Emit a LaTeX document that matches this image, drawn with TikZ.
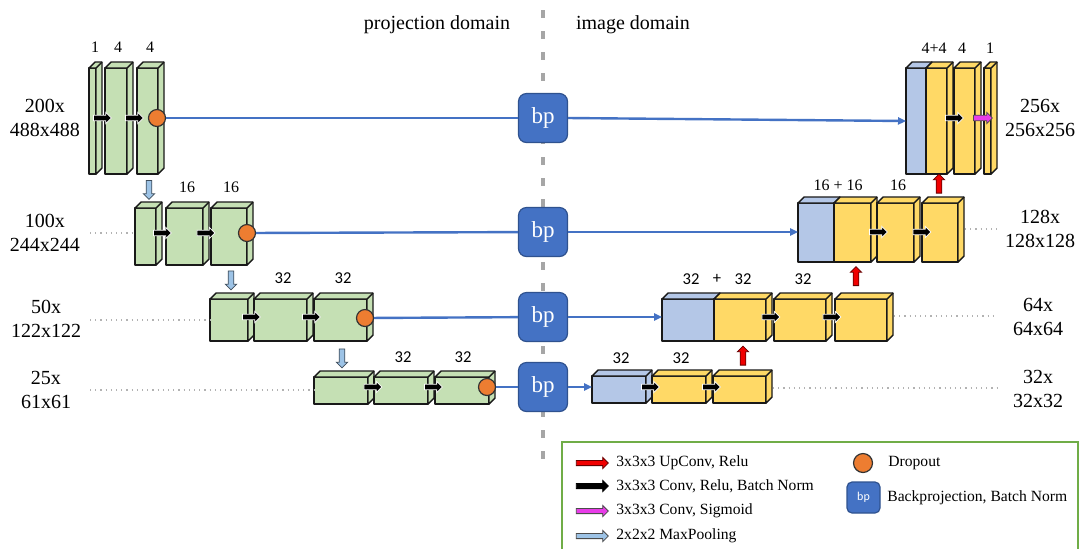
\documentclass[tikz,border=0pt]{standalone}
\usepackage{fontspec}
\setmainfont{Liberation Serif}
\newfontfamily\calfont{Carlito}
\usetikzlibrary{fit,shapes.arrows,arrows.meta,calc}
\definecolor{cgreen}{HTML}{C5E0B4}
\definecolor{cyellow}{HTML}{FFD966}
\definecolor{cblue}{HTML}{B4C7E7}
\definecolor{bpblue}{HTML}{4472C4}
\definecolor{bpborder}{HTML}{2F528F}
\definecolor{corange}{HTML}{ED7D31}
\definecolor{lgreen}{HTML}{70AD47}
\definecolor{cred}{HTML}{F00000}
\definecolor{cmag}{HTML}{E83CE8}
\definecolor{cpool}{HTML}{9DC3E6}
\definecolor{cdiv}{HTML}{A6A6A6}
\tikzset{
  face/.style={draw=black!90, line width=0.7pt, line join=round},
  blockbox/.style={face, inner sep=0pt, outer sep=0pt},
  arr/.style={single arrow, inner xsep=0pt, inner ysep=1.2pt, single arrow head extend=1.4pt,
    single arrow head indent=0pt, minimum height=9pt, line width=0.4pt},
  conv/.style={arr, fill=black, draw=white},
  sigm/.style={arr, fill=cmag, draw=black!70, minimum height=9.5pt},
  upconv/.style={arr, fill=cred, draw=black!60!red, minimum height=9.5pt, rotate=90},
  pool/.style={arr, fill=cpool, draw=black!60!cpool, minimum height=9.5pt, rotate=-90},
  legarr/.style={arr, minimum height=16pt, inner ysep=1.1pt, single arrow head extend=1.5pt},
  drop/.style={circle, minimum size=8.5pt, inner sep=0pt, fill=corange, draw=black!80, line width=0.6pt},
  bp/.style={rounded corners=4pt, minimum size=24.5pt, inner sep=0pt, fill=bpblue, draw=bpborder,
    line width=0.6pt, text=white, font=\fontsize{11.5}{13}\selectfont},
  dim/.style={align=center, font=\fontsize{10}{12}\selectfont, inner sep=0pt},
  slab/.style={font=\fontsize{8}{9}\selectfont, inner sep=0pt},
  clab/.style={font=\calfont\fontsize{8.3}{9}\selectfont, inner sep=0pt},
  ttl/.style={font=\fontsize{10}{12}\selectfont, inner sep=0pt},
  legtxt/.style={font=\fontsize{7.8}{9}\selectfont, anchor=west, inner sep=0pt},
  bpline/.style={draw=bpblue, line width=1.2pt},
  dotline/.style={draw=black!30, dotted, line width=0.6pt},
}
\newcommand\blk[6]{%
  \node[blockbox, fill=#6, fit={(#2,#4)(#3,#5)}] (#1) {};
  \draw[face, fill=#6] (#1.north west) -- ([shift={(6,-6)}]#1.north west)
    -- ([shift={(6,-6)}]#1.north east) -- ([shift={(6,-6)}]#1.south east)
    -- (#1.south east) -- (#1.north east) -- cycle;
  \draw[face] (#1.north east) -- ([shift={(6,-6)}]#1.north east);
}
\begin{document}
\begin{tikzpicture}[x=0.5pt, y=-0.5pt]
\useasboundingbox (0,0) rectangle (1080,548);
\fill[white] (0,0) rectangle (1080,548);

% domain divider
\coordinate (divtop) at (543,10);
\coordinate (divbot) at (543,466);
\draw[cdiv, line width=1.6pt, dash pattern=on 4pt off 6.5pt] (divtop) -- (divbot);
\node[ttl] (tproj) at (437,25) {projection domain};
\node[ttl] (timg) at (633,25) {image domain};

% ---------- left (projection) blocks ----------
\blk{L1a}{89}{96}{68}{174}{cgreen}
\blk{L1b}{105}{127}{68}{174}{cgreen}
\blk{L1c}{137}{158}{68}{174}{cgreen}
\blk{L2a}{135}{156}{208}{265}{cgreen}
\blk{L2b}{166}{203}{208}{265}{cgreen}
\blk{L2c}{211}{247}{208}{265}{cgreen}
\blk{L3a}{210}{248}{299}{341}{cgreen}
\blk{L3b}{254}{307}{299}{341}{cgreen}
\blk{L3c}{314}{367}{299}{341}{cgreen}
\blk{L4a}{314}{368}{377}{404}{cgreen}
\blk{L4b}{374}{428}{377}{404}{cgreen}
\blk{L4c}{435}{489}{377}{404}{cgreen}

% ---------- right (image) blocks ----------
\blk{R1b}{906}{926}{68}{174}{cblue}
\blk{R1c}{926}{947}{68}{174}{cyellow}
\blk{R1d}{954}{975}{68}{174}{cyellow}
\blk{R1e}{984}{991}{68}{174}{cyellow}
\blk{R2b}{798}{834}{203}{262}{cblue}
\blk{R2c}{834}{871}{203}{262}{cyellow}
\blk{R2d}{877}{914}{203}{262}{cyellow}
\blk{R2e}{922}{958}{203}{262}{cyellow}
\blk{R3b}{662}{714}{299}{341}{cblue}
\blk{R3c}{714}{766}{299}{341}{cyellow}
\blk{R3d}{774}{826}{299}{341}{cyellow}
\blk{R3e}{835}{887}{299}{341}{cyellow}
\blk{R4b}{592}{646}{376}{403}{cblue}
\blk{R4c}{652}{706}{376}{403}{cyellow}
\blk{R4d}{713}{766}{376}{403}{cyellow}

% ---------- dropout and backprojection ----------
\node[drop] (d1) at (157,118) {};
\node[drop] (d2) at (247,233) {};
\node[drop] (d3) at (365,318) {};
\node[drop] (d4) at (487,387) {};
\node[bp] (bp1) at (543,118) {bp};
\node[bp] (bp2) at (543,232) {bp};
\node[bp] (bp3) at (543,317) {bp};
\node[bp] (bp4) at (543,387) {bp};

\draw[bpline] (d1) -- (bp1);
\draw[bpline] (d2) -- (bp2);
\draw[bpline] (d3) -- (bp3);
\draw[bpline] (d4) -- (bp4);
\draw[bpline, -{Triangle[length=4pt,width=3.6pt]}] (bp1.east) -- (R1b.west);
\draw[bpline, -{Triangle[length=4pt,width=3.6pt]}] (bp2.east) -- (bp2.east -| R2b.west);
\draw[bpline, -{Triangle[length=4pt,width=3.6pt]}] (bp3.east) -- (bp3.east -| R3b.west);
\draw[bpline, -{Triangle[length=4pt,width=3.6pt]}] (bp4.east) -- (bp4.east -| R4b.west);

% ---------- conv arrows ----------
\node[conv] (c11) at (101,118) {};
\node[conv] (c12) at (133,118) {};
\node[conv] (c21) at (161,233) {};
\node[conv] (c22) at (204.5,233) {};
\node[conv] (c31) at (250,317) {};
\node[conv] (c32) at (310,317) {};
\node[conv] (c41) at (371.5,387) {};
\node[conv] (c42) at (432,387) {};
\node[conv] (r11) at (953,118) {};
\node[sigm] (r12) at (981.5,118) {};
\node[conv] (r21) at (877,232) {};
\node[conv] (r22) at (920.5,232) {};
\node[conv] (r31) at (769.5,317) {};
\node[conv] (r32) at (830.5,317) {};
\node[conv] (r41) at (649,387) {};
\node[conv] (r42) at (710,387) {};

% pooling (down) and upconv (up)
\node[pool] (p1) at (149,188.5) {};
\node[pool] (p2) at (231,279) {};
\node[pool] (p3) at (342,357) {};
\node[upconv] (u1) at (939,185) {};
\node[upconv] (u2) at (856,277.5) {};
\node[upconv] (u3) at (743,357) {};

% ---------- channel labels ----------
\node[slab] (n11) at (95,47) {1};
\node[slab] (n12) at (118,47) {4};
\node[slab] (n13) at (150,47) {4};
\node[slab] (n21) at (187,187) {16};
\node[slab] (n22) at (231,187) {16};
\node[clab] (n31) at (283,278) {32};
\node[clab] (n32) at (343,278) {32};
\node[clab] (n41) at (403,357) {32};
\node[clab] (n42) at (463,357) {32};
\node[slab] (m11) at (934,48) {4+4};
\node[slab] (m12) at (962,48) {4};
\node[slab] (m13) at (990,48) {1};
\node[slab] (m21) at (838,185) {16 + 16};
\node[slab] (m22) at (898,185) {16};
\node[clab] (m31) at (691,279) {32};
\node[clab] (m3p) at (717,279) {+};
\node[clab] (m32) at (743,279) {32};
\node[clab] (m33) at (803,279) {32};
\node[clab] (m41) at (621,358) {32};
\node[clab] (m42) at (681,358) {32};

% ---------- size labels ----------
\node[dim] (ls1) at (45,118) {200x\\488x488};
\node[dim] (ls2) at (45,233) {100x\\244x244};
\node[dim] (ls3) at (46,319) {50x\\122x122};
\node[dim] (ls4) at (46,390) {25x\\61x61};
\node[dim] (rs1) at (1040,118) {256x\\256x256};
\node[dim] (rs2) at (1040,229) {128x\\128x128};
\node[dim] (rs3) at (1038,317) {64x\\64x64};
\node[dim] (rs4) at (1038,389) {32x\\32x32};

% dotted guide lines
\coordinate (gl2) at (90,233);
\coordinate (gl3) at (90,320);
\coordinate (gl4) at (90,390);
\draw[dotline] (gl2) -- (gl2 -| L2a.west);
\draw[dotline] (gl3) -- (gl3 -| L3a.west);
\draw[dotline] (gl4) -- (gl4 -| L4a.west);
\coordinate (gr2) at (997,229);
\coordinate (gr3) at (997,316);
\coordinate (gr4) at (997,388);
\draw[dotline] ([xshift=3.5pt]gr2 -| R2e.east) -- (gr2);
\draw[dotline] ([xshift=3.5pt]gr3 -| R3e.east) -- (gr3);
\draw[dotline] ([xshift=3.5pt]gr4 -| R4d.east) -- (gr4);

% ---------- legend ----------
\node[draw=lgreen, line width=0.8pt, inner sep=0pt, fit={(562,442)(1078,570)}] (legend) {};
\node[legarr, fill=cred, draw=black!60!red] (k1) at (591,463) {};
\node[legtxt] (t1) at (616,463) {3x3x3 UpConv, Relu};
\node[legarr, fill=black, draw=black] (k2) at (591,486) {};
\node[legtxt] (t2) at (616,486) {3x3x3 Conv, Relu, Batch Norm};
\node[legarr, fill=cmag, draw=black!70] (k3) at (591,511) {};
\node[legtxt] (t3) at (616,511) {3x3x3 Conv, Sigmoid};
\node[legarr, fill=cpool, draw=black!70] (k4) at (591,536) {};
\node[legtxt] (t4) at (616,536) {2x2x2 MaxPooling};
\node[drop, minimum size=9.5pt] (kd) at (863,463) {};
\node[legtxt] (t5) at (888,463) {Dropout};
\node[bp, minimum width=16.5pt, minimum height=15.5pt, rounded corners=2.5pt,
  font=\calfont\fontsize{6}{7}\selectfont] (kbp) at (863.5,497.5) {bp};
\node[legtxt] (t6) at (887,498) {Backprojection, Batch Norm};
\end{tikzpicture}
\end{document}
